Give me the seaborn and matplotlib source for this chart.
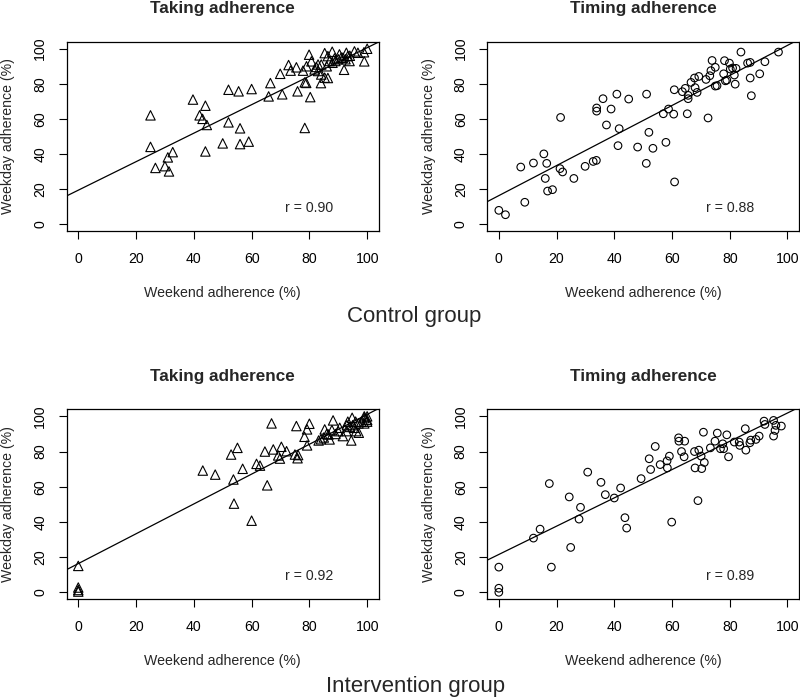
import matplotlib
matplotlib.use("Agg")
import matplotlib.pyplot as plt
import seaborn as sns
import numpy as np

# ---------------- data ----------------
ticks = [0, 20, 40, 60, 80, 100]
panel_titles = ["Taking adherence", "Timing adherence", "Taking adherence", "Timing adherence"]
r_labels = ["r = 0.90", "r = 0.88", "r = 0.92", "r = 0.89"]
group_labels = ["Control group", "Intervention group"]

# control group, taking adherence
ctrl_take_x = [25, 25, 26.7, 30, 31, 31.4, 32.7, 39.7, 42, 43, 44, 44.5, 44, 50, 52, 52, 55.5, 56, 56, 59, 60,
               65.9, 66.5, 70.6, 69.9, 72.8, 73.5, 75.5, 75.9, 77.8, 78.4, 78.9, 78.4, 79, 79.9, 80.3, 80.7,
               84, 86.4, 85.3, 92, 95.6, 99, 100, 98.9,
               81.8, 82.4, 83, 84.1, 85.3, 84.1, 86.4, 88.7, 90.4, 93.3, 93.9, 87, 92.8, 96.8, 83, 87.9,
               91.6, 92.5, 90, 89, 91, 94, 88, 86]
ctrl_take_y = [62, 44, 32, 33, 38, 30, 41, 71, 62, 60, 67.5, 56.5, 41.4, 46, 76.6, 58, 75.7, 54.6, 45.6, 47, 77,
               72.8, 80.4, 74, 85.7, 90.7, 87.5, 89.4, 75.7, 87.5, 80.8, 80.5, 54.8, 90, 96.6, 72.4, 92.8,
               80.4, 83.3, 97.5, 88, 98.5, 92.8, 100, 98,
               88.2, 89.6, 87.3, 85.3, 83.5, 91, 95.8, 94.5, 96.8, 95.8, 93, 93, 97.7, 97.7, 91, 98.3,
               94.9, 94, 94, 93, 95, 96, 92, 90]

# control group, timing adherence
ctrl_time_x = [0, 2.3, 7.6, 9, 12, 15.6, 16.1, 16.6, 16.9, 18.6, 21.4, 21.2, 22.1, 26, 29.9, 32.7, 33.8, 33.9,
               33.9, 36.1, 37.3, 38.9, 40.9, 41.7, 41.3, 45, 48.1, 51.1, 51.2, 52, 53.4, 57, 57.9, 58.8, 60.6,
               60.9, 60.8, 63.6, 64.6, 65.3, 65.6, 65.6, 66.6, 67.8, 68, 68.7, 69.3, 71.8, 72.5, 73.1, 73.5,
               73.9, 75, 75, 75.6, 77.9, 78.2, 78.5, 79, 79.9, 80.2, 81, 81.6, 81.9, 82.2, 83.9, 86.2, 87.1,
               87.1, 87.5, 90.4, 92.2, 96.9]
ctrl_time_y = [7.8, 5.3, 32.5, 12.4, 34.8, 40, 26, 34.6, 18.8, 19.6, 60.8, 31.6, 29.7, 26, 32.9, 35.7, 36.3, 66.2,
               64.4, 71.5, 56.5, 65.6, 74.1, 54.4, 44.7, 71.3, 43.9, 34.6, 74.1, 52.3, 43.2, 62.9, 46.6, 65.6,
               62.7, 24, 76.6, 75.5, 77.4, 62.9, 73.4, 71.5, 80.8, 83.3, 77.8, 75.1, 84.2, 82.5, 60.5, 84.6,
               87.5, 93.3, 89.4, 78.7, 78.9, 85.7, 93.2, 81.7, 82.1, 91.8, 88.4, 89, 85, 79.8, 88.8, 98.1, 91.8,
               92.2, 83.3, 73.2, 85.7, 92.6, 98.1]

# intervention group, taking adherence
int_take_x = [0, 0, 0, 0, 43.1, 47.4, 52.9, 55.1, 53.7, 53.9, 56.9, 60, 61.7, 62.9, 64.6, 65.4, 66.9, 67.5,
              69.2, 69.8, 70.3, 72.1, 75, 75.9, 76.1, 75.5, 78.3, 79.2, 80, 79.2, 83.2, 85.3, 87, 88.2, 91.6,
              94.5, 97.1, 94.8, 93.3, 86.6, 87.8, 90, 90.5, 92.8, 95.6, 96.2, 98, 99, 99, 100, 100, 100, 97,
              99, 96, 95, 94, 93, 85, 86, 89, 84]
int_take_y = [15, 2.7, 1.3, 0.4, 69.2, 66.9, 78.3, 82.1, 64.1, 50.4, 70.2, 40.7, 73, 72, 80, 60.8, 96, 81.2,
              77.8, 76, 82.7, 80.2, 78.3, 76.2, 78, 94.5, 88.4, 92.6, 95.8, 83.5, 86.3, 92.6, 86.9, 97.7, 88.8,
              86.3, 90.7, 99.2, 97, 89.7, 92.2, 91.6, 93.5, 91.6, 93.5, 91.6, 97, 99, 100, 98, 100, 97, 96,
              96, 97, 95, 94, 95, 88, 90, 90, 87]

# intervention group, timing adherence
int_time_x = [0, 0, 0, 12, 14.3, 17.5, 18.2, 24.4, 24.9, 27.8, 28.3, 30.8, 35.4, 36.9, 40, 42.2, 43.7, 44.3,
              49.3, 52.1, 52.6, 54.2, 55.9, 58.3, 58.4, 59.1, 59.9, 62.3, 62.4, 63.3, 64.2, 64.4, 67.8, 68, 69,
              69.3, 70.1, 70.3, 70.9, 71.2, 73.3, 74.9, 75.7, 76.8, 77.6, 77.9, 79, 79.6, 81.6, 83.3, 83.5,
              85.4, 85.6, 87, 87.3, 89.1, 90.2, 91.9, 92.2, 95.2, 95.2, 95.7, 96, 97.9]
int_time_y = [14.3, 2.3, 0, 30.8, 35.9, 61.8, 14.3, 54.2, 25.5, 41.6, 48.3, 68.3, 62.5, 55.5, 53.6, 59.3, 42.4,
              36.5, 64.6, 75.9, 69.8, 82.9, 72.6, 74.7, 70.7, 77.4, 39.9, 87.8, 85.9, 80, 77, 85.9, 80, 70.7,
              52.1, 80.8, 77.4, 70.3, 91, 73.8, 82.1, 85.9, 90.5, 81.6, 84.4, 81.6, 89.5, 77, 85.4, 85.4, 83.5,
              93, 80.8, 85, 86.5, 86.9, 88.8, 97.3, 95.4, 97.7, 88.8, 92, 94.9, 94.5]

# fitted lines (intercept, slope)
fit_intercept = [19.3, 16.2, 16.3, 21.5]
fit_slope = [0.813, 0.857, 0.848, 0.804]

######################## plotting ########################
sns.set_style("ticks")
plt.rcParams['font.family'] = ['Liberation Sans', 'DejaVu Sans']
plt.rcParams['font.size'] = 10.2

fig = plt.figure(figsize=(8, 6.99), dpi=100)

# axes boxes in figure fractions: left, bottom, width, height
boxes = [[0.0834, 0.6695, 0.3900, 0.2708],
         [0.6091, 0.6695, 0.3896, 0.2708],
         [0.0834, 0.1426, 0.3900, 0.2718],
         [0.6091, 0.1426, 0.3896, 0.2718]]
xs = [ctrl_take_x, ctrl_time_x, int_take_x, int_time_x]
ys = [ctrl_take_y, ctrl_time_y, int_take_y, int_time_y]
markers = ['^', 'o', '^', 'o']
sizes = [46, 30, 46, 30]

for i in range(4):
    ax = fig.add_axes(boxes[i])
    ax.set_xlim(-4, 104)
    ax.set_ylim(-4, 104)
    sns.scatterplot(x=xs[i], y=ys[i], marker=markers[i], s=sizes[i], ax=ax,
                    facecolor='none', edgecolor='black', linewidth=0.8, zorder=3)
    # make sure markers stay hollow
    for coll in ax.collections:
        coll.set_facecolor('none')
        coll.set_edgecolor('black')
    ax.axline((0, fit_intercept[i]), slope=fit_slope[i], color='black', lw=0.9)
    ax.text(80, 9, r_labels[i], ha='center', va='center', fontsize=10.2)

    ax.set_xticks(ticks)
    ax.set_yticks(ticks)
    ax.tick_params(axis='both', length=6, width=0.8, colors='black', labelsize=10.2)
    ax.tick_params(axis='x', pad=9)
    ax.tick_params(axis='y', pad=8)
    for lab in ax.get_yticklabels():
        lab.set_rotation(90)
        lab.set_va('center')
    for sp in ax.spines.values():
        sp.set_visible(True)
        sp.set_linewidth(0.9)
        sp.set_color('black')

    ax.set_xlabel("Weekend adherence (%)", fontsize=10.2)
    ax.set_ylabel("Weekday adherence (%)", fontsize=10.2)
    ax.xaxis.set_label_coords(0.5, -0.29)
    ax.yaxis.set_label_coords(-0.166, 0.5)
    ax.set_title(panel_titles[i], fontsize=12.3, fontweight='bold', pad=20.5)

fig.text(0.518, 0.5393, group_labels[0], ha='center', va='baseline', fontsize=16)
fig.text(0.519, 0.010, group_labels[1], ha='center', va='baseline', fontsize=16)

fig.savefig("out.png", dpi=100)
